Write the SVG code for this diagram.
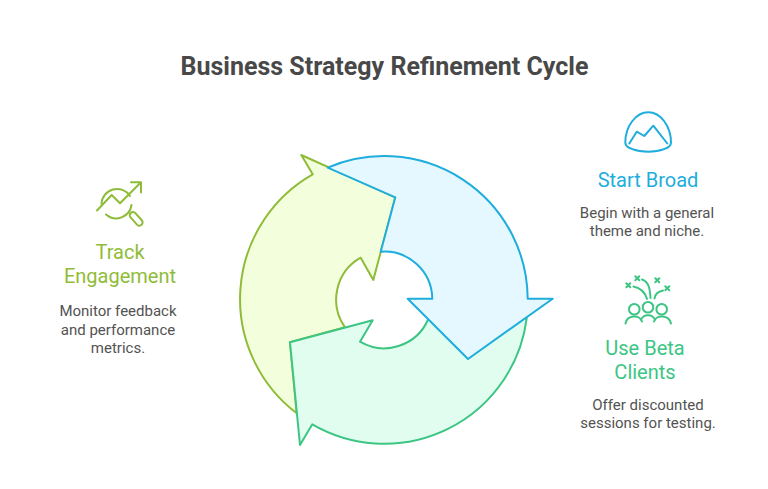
<svg xmlns="http://www.w3.org/2000/svg" width="768" height="489" viewBox="0 0 768 489">
<style>
text{font-family:Roboto,"Liberation Sans",sans-serif;text-anchor:middle}
.title{font-size:25px;font-weight:700;fill:#484848}
.head{font-size:20px;font-weight:400}
.body{font-size:15px;fill:#535353}
.seg{stroke-width:2;stroke-linejoin:round}
.ic{fill:none;stroke-width:2;stroke-linecap:round;stroke-linejoin:round}
.blue{fill:#1eaddc;}
.lime{fill:#8fbc38;}
.green{fill:#3cc583;}
.sb{stroke:#1eaddc}.sl{stroke:#8fbc38}.sg{stroke:#3cc583}
</style>
<rect width="768" height="489" fill="#fff"/>
<text class="title" x="384.500" y="75">Business Strategy Refinement Cycle</text>
<g id="connectors">
<path id="seg-lime" class="seg sl" fill="#f3ffdc" d="M296.7 413.3A143.5 143.5 0 0 1 312.7 174.3L301.3 155L395.3 197.3L373.3 280L360.7 257.7A48 48 0 0 0 345 327.3L290 342.3Z"/>
<path id="seg-green" class="seg sg" fill="#e1fdf0" d="M526.7 318.3A143.5 143.5 0 0 1 312.3 424.3L300 445L290 342.3L372.7 320.3L360 341.7A48 48 0 0 0 428.3 319Z"/>
<path id="seg-blue" class="seg sb" fill="#e6f8ff" d="M327.7 167.7A143.5 143.5 0 0 1 527.7 298.7L552.7 298.7L468 359L407.7 298.7L432.3 298.7A48 48 0 0 0 380.7 251.7L395.3 197.3Z"/>
</g>
<g id="start-broad">
<g class="ic sb">
<path d="M625.3 142.7C625.3 126 636 112.3 648.3 112.3C660.500 112.300 671 126 671 142.7C671 148 660 151.700 648.300 151.700C636.500 151.700 625.300 148 625.300 142.700Z"/>
<path d="M629.3 143.500L636.700 131.700L644.300 136L653.300 125.700L667.300 143.500"/>
</g>
<text class="head blue" x="648" y="187">Start Broad</text>
<text class="body" x="647" y="218">Begin with a general</text>
<text class="body" x="647" y="236">theme and niche.</text>
</g>
<g id="use-beta-clients">
<g class="ic sg">
<circle cx="634.300" cy="309.300" r="5.300"/><circle cx="648" cy="307.300" r="5.300"/><circle cx="661.700" cy="309.300" r="5.300"/>
<path d="M625.500 323.500C627 314.500 640 314.500 642 321.500M641 320C643 313.500 653 313.500 655 320M654 321.500C656 314.500 669 314.500 671 323.500"/>
<path d="M633.500 286.500C641 288 645 292 647 299M642 279.500C648 281.500 650 287 650.500 298M654.500 298.500C655 294.500 658 291.500 663 290.500"/>
<path d="M626.300 283.300l4 4m0-4l-4 4M635.300 276.300l4 4m0-4l-4 4M655.300 278.300l4 4m0-4l-4 4M665.300 286.300l4 4m0-4l-4 4"/>
</g>
<text class="head green" x="645" y="355">Use Beta</text>
<text class="head green" x="645" y="379">Clients</text>
<text class="body" x="648" y="410">Offer discounted</text>
<text class="body" x="648" y="428">sessions for testing.</text>
</g>
<g id="track-engagement">
<g class="ic sl">
<path d="M101.500 204A15.500 15.500 0 0 1 130 196M131.500 205A15.500 15.500 0 0 1 106 214.500"/>
<path d="M97 210.500L111.700 195L120 203.300L141 182.300M131 182.300H141V192.500"/>
<rect x="133" y="211" width="6.500" height="16" rx="3.200" transform="rotate(-42 136 219)"/>
</g>
<text class="head lime" x="120" y="259">Track</text>
<text class="head lime" x="120" y="283">Engagement</text>
<text class="body" x="118" y="316">Monitor feedback</text>
<text class="body" x="118" y="335">and performance</text>
<text class="body" x="118" y="353">metrics.</text>
</g>
</svg>
